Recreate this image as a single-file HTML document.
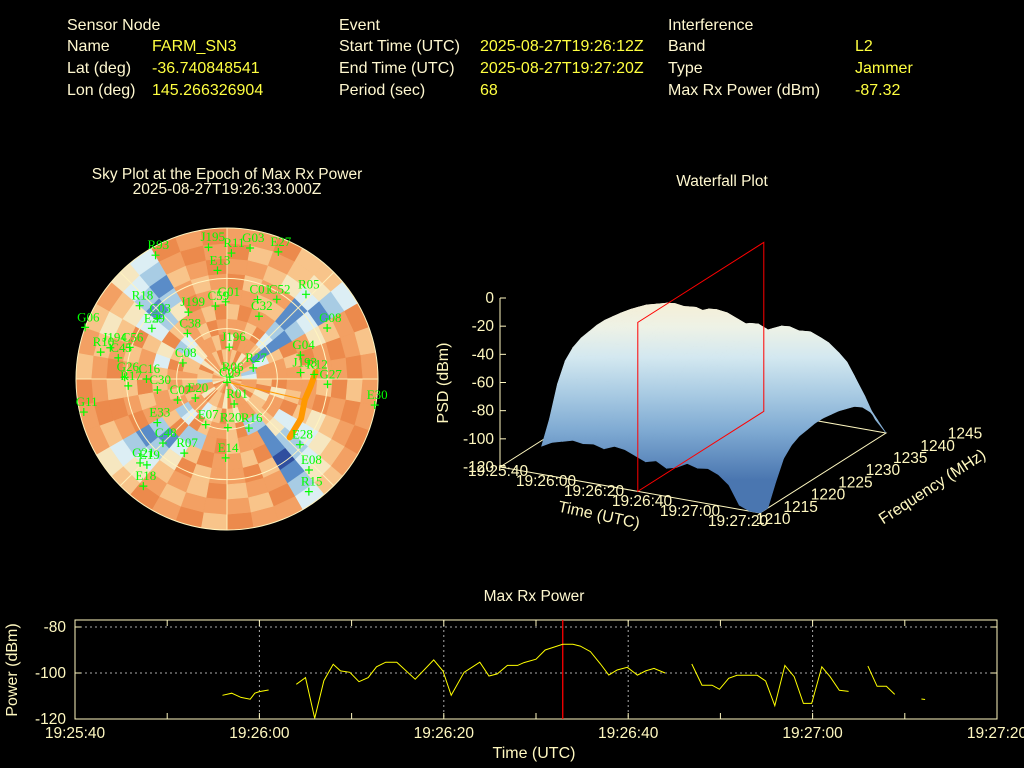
<!DOCTYPE html>
<html><head><meta charset="utf-8"><style>
html,body{margin:0;padding:0;background:#000;}
svg{display:block;font-family:"Liberation Sans",sans-serif;}
.h{fill:#fff8d0;font-size:16px;}
.v{fill:#ffff40;font-size:16px;}
.t{fill:#fff8d0;font-size:15.5px;}
</style></head><body>
<svg id="root" width="1024" height="768" viewBox="0 0 1024 768">
<rect width="1024" height="768" fill="#000"/>
<g>
<text class="h" x="67" y="30">Sensor Node</text>
<text class="h" x="67" y="51">Name</text><text class="v" x="152" y="51">FARM_SN3</text>
<text class="h" x="67" y="73">Lat (deg)</text><text class="v" x="152" y="73">-36.740848541</text>
<text class="h" x="67" y="95">Lon (deg)</text><text class="v" x="152" y="95">145.266326904</text>
<text class="h" x="339" y="30">Event</text>
<text class="h" x="339" y="51">Start Time (UTC)</text><text class="v" x="480" y="51">2025-08-27T19:26:12Z</text>
<text class="h" x="339" y="73">End Time (UTC)</text><text class="v" x="480" y="73">2025-08-27T19:27:20Z</text>
<text class="h" x="339" y="95">Period (sec)</text><text class="v" x="480" y="95">68</text>
<text class="h" x="668" y="30">Interference</text>
<text class="h" x="668" y="51">Band</text><text class="v" x="855" y="51">L2</text>
<text class="h" x="668" y="73">Type</text><text class="v" x="855" y="73">Jammer</text>
<text class="h" x="668" y="95">Max Rx Power (dBm)</text><text class="v" x="855" y="95">-87.32</text>
</g>
<text class="t" x="227" y="179" text-anchor="middle">Sky Plot at the Epoch of Max Rx Power</text>
<text class="t" x="227" y="194" text-anchor="middle">2025-08-27T19:26:33.000Z</text>
<text class="t" x="722" y="186" text-anchor="middle">Waterfall Plot</text>
<text class="t" x="534" y="601" text-anchor="middle">Max Rx Power</text>
<g id="sky"></g>
<g id="wf"></g>
<g id="pw"></g>
</svg>
<script>
const NS='http://www.w3.org/2000/svg';
function mk(p,tag,a){const e=document.createElementNS(NS,tag);for(const k in a)e.setAttribute(k,a[k]);p.appendChild(e);return e;}

/* ---------- SKY PLOT DATA ---------- */
const skyRings=[
"564756654756673567476556745665476557",
"657466523665746657465574662557466575",
"476651366574556645754366575655346657",
"665731566746652275665732656675236576",
"576621756657341665762275665534756657",
"665512675665321756675312657665324765",
"756613466574320576657421765657312656",
"665431576765431665756532675765421567",
"756542667576542756665643576654532676",
"667553756667653667576754667565643767"];
const skyPalette=["#2f4f9f","#5a8cc8","#a8cce4","#dceef4","#f6e7c0","#f8c48a","#f3a063","#ec8a4c"];
const satNames=["G03","E27","R11","J195","E13","R93","R05","C52","C01","C32","C59","G01","R18","C03","G06","E29","J199","C38","G08","J196","G04","J193","R10","R27","C08","R12","G27","E30","R06","C09","R01","E20","C07","G11","C30","E33","C48","E07","R20","R16","R07","E14","G21","E19","E18","E28","E08","R15","J194","C56","G26","R17","C16","C45"];
const satAz=[10,22,2,352,355,330,43,32,21,27,351,359,310,311,290,304,330,319,63,4,72,85,282,67,290,87,93,100,56,180,164,239,247,257,261,238,225,205,179,156,210,181,226,223,218,132,138,144,285,288,271,266,270,281];
const satEl=[10.7,8.3,14.9,10.7,25,4.8,21,34,39.3,48,46,44,22,35,0,36,44,54,23,71,44,46,13,73,62,38,30,0.6,88,88,74.5,68,58,2.4,48,41,36,60,61,58,39,43,18,20,9,31.5,17,7,18,29,29,31,42,24];
const trackAz=[85.5,95,105,118,133];
const trackEl=[37,40,42,40,39];

(function(){
 const g=document.getElementById('sky');
 const cx=227,cy=379,R=151;
 const rp=el=>R*(90-el)/90;
 const pt=(az,el)=>{const r=rp(el),a=az*Math.PI/180;return [cx+r*Math.sin(a),cy-r*Math.cos(a)];};
 const nR=skyRings.length,nS=skyRings[0].length;
 for(let i=0;i<nR;i++){for(let j=0;j<nS;j++){
  const r0=R*i/nR,r1=R*(i+1)/nR,a0=(j*360/nS-90)*Math.PI/180,a1=((j+1)*360/nS-90)*Math.PI/180;
  const p=[[r0,a0],[r1,a0],[r1,a1],[r0,a1]].map(q=>(cx+q[0]*Math.cos(q[1])).toFixed(1)+','+(cy+q[0]*Math.sin(q[1])).toFixed(1));
  const c=mk(g,'polygon',{points:p.join(' '),fill:skyPalette[+skyRings[i][j]],stroke:skyPalette[+skyRings[i][j]],'stroke-width':0.6});
  
  
 }}
 [30,60].forEach(el=>{const c=mk(g,'circle',{cx:cx,cy:cy,r:rp(el),fill:'none',stroke:'#fff4c0','stroke-width':1});
  });
 const o=mk(g,'circle',{cx:cx,cy:cy,r:R,fill:'none',stroke:'#fff4c0','stroke-width':1});
 
 [0,45,90,135].forEach(a=>{const p1=pt(a,0),p2=pt(a+180,0);
  const l=mk(g,'line',{x1:p1[0],y1:p1[1],x2:p2[0],y2:p2[1],stroke:'#fff4c0','stroke-width':1,opacity:0.9});
  });
 const tp=trackAz.map((a,i)=>pt(a,trackEl[i]));
 const ln=mk(g,'line',{x1:cx,y1:cy+3,x2:tp[2][0],y2:tp[2][1],stroke:'#ff9900','stroke-width':1});
 
 const tr=mk(g,'polyline',{points:tp.map(p=>p[0].toFixed(1)+','+p[1].toFixed(1)).join(' '),fill:'none',stroke:'#ff9900','stroke-width':6,'stroke-linecap':'round'});
 
 satNames.forEach((n,i)=>{const p=pt(satAz[i],satEl[i]);
  const s=mk(g,'path',{d:`M${p[0]-4},${p[1]}h8M${p[0]},${p[1]-4}v8`,stroke:'#00ff00','stroke-width':1.2});
  
  const t=mk(g,'text',{x:p[0]-8,y:p[1]-6,fill:'#00ff00','font-size':13,'font-family':'"Liberation Serif",serif'});
  t.textContent=n;
  
 });
})();

/* ---------- WATERFALL DATA ---------- */
const wfFreqTicks=["1210","1215","1220","1225","1230","1235","1240","1245"];
const wfTimeTicks=["19:25:40","19:26:00","19:26:20","19:26:40","19:27:00","19:27:20"];
const wfZTicks=["0","-20","-40","-60","-80","-100","-120"];
const wfFreqProfile=[-92,-76,-55,-42,-36,-33,-32,-31,-31,-32,-33,-35,-37,-41,-48,-58,-72];
const wfTimeProfile=[null,null,null,null,-8,-4,-2,0,-1,0,-2,1,0,-3,-6,-4,-8,-6,-2,-4,-3,-6,-12,-25,-40,-50];
const wfMarkerTime=0.53;

(function(){
 const g=document.getElementById('wf');
 const A=[500,467],TV=[260,46],FV=[126,-80],ZH=169;
 const P=(t,f,z)=>[A[0]+t*TV[0]+f*FV[0],A[1]+t*TV[1]+f*FV[1]-(z+120)/120*ZH];
 const defs=mk(g,'defs',{});
 const gr=mk(defs,'linearGradient',{id:'wfg',gradientUnits:'userSpaceOnUse',x1:0,y1:300,x2:0,y2:480});
 [[0,'#f6eed4'],[0.15,'#eef2e6'],[0.32,'#d3e8f0'],[0.52,'#a9cbe3'],[0.72,'#80abd3'],[1,'#4a76b0']].forEach(s=>mk(gr,'stop',{offset:s[0],'stop-color':s[1]}));
 const ax=(d,name)=>{const e=mk(g,'path',{d:d,stroke:'#fff8c0','stroke-width':1,fill:'none'});};
 const pA=P(0,0,-120),pB=P(1,0,-120),pC=P(1,1,-120),pD=P(0,1,-120);
 ax(`M${pA}L${pB}L${pC}L${pD}Z`,'waterfall-floor');
 const zt=P(0,0,0);
 ax(`M${pA}L${zt}`,'z-axis');
 wfZTicks.forEach((l,i)=>{const z=-i*20,p=P(0,0,z);ax(`M${p[0]},${p[1]}h6`,'z-tick');
  const t=mk(g,'text',{x:p[0]-6,y:p[1]+5,fill:'#fff8c0','font-size':15.5,'text-anchor':'end'});t.textContent=l;
  });
 const nF=wfFreqProfile.length,nT=wfTimeProfile.length;
 const zv=(fi,ti)=>wfTimeProfile[ti]===null?null:Math.max(-120,wfFreqProfile[fi]+wfTimeProfile[ti]);
 for(let fi=nF-2;fi>=0;fi--){
  const f0=fi/(nF-1),f1=(fi+1)/(nF-1);
  for(let ti=0;ti<nT-1;ti++){
   const a=zv(fi,ti),b=zv(fi,ti+1),c=zv(fi+1,ti+1),d=zv(fi+1,ti);
   if(a===null||b===null||c===null||d===null)continue;
   const t0=ti/(nT-1),t1=(ti+1)/(nT-1);
   const pts=[P(t0,f0,a),P(t1,f0,b),P(t1,f1,c),P(t0,f1,d)];
   const e=mk(g,'polygon',{points:pts.map(p=>p[0].toFixed(1)+','+p[1].toFixed(1)).join(' '),fill:'url(#wfg)',stroke:'url(#wfg)','stroke-width':0.6});
   
   
  }
 }
 const r1=P(wfMarkerTime,0,-120),r2=P(wfMarkerTime,0,0),r3=P(wfMarkerTime,1,0),r4=P(wfMarkerTime,1,-120);
 const rp=mk(g,'polygon',{points:[r1,r2,r3,r4].map(p=>p.join(',')).join(' '),fill:'none',stroke:'#ff0000','stroke-width':1});
 
 wfTimeTicks.forEach((l,i)=>{const t=mk(g,'text',{x:498+i*48,y:476+i*10,fill:'#fff8c0','font-size':15.5,'text-anchor':'middle'});t.textContent=l;
  });
 wfFreqTicks.forEach((l,i)=>{const t=mk(g,'text',{x:756+i*27.4,y:524-i*12.2,fill:'#fff8c0','font-size':15.5});t.textContent=l;
  });
 const lab=(x,y,r,s,n)=>{const t=mk(g,'text',{x:x,y:y,fill:'#fff8c0','font-size':16,'text-anchor':'middle',transform:`rotate(${r} ${x} ${y})`});t.textContent=s;
  };
 lab(448,383,-90,'PSD (dBm)','z-axis-title');
 lab(598,520,12,'Time (UTC)','time-axis-title');
 lab(935,491,-33,'Frequency (MHz)','freq-axis-title');
})();

/* ---------- POWER CHART DATA ---------- */
const pwTimes=[16,17,18,19,19.5,20,21,null,24,25,26,27,28,28.8,29.8,30.8,31.8,32.7,33.7,34.9,36.9,38.9,39.9,40.8,42.2,43.9,44.9,45.8,46.9,48,48.7,50,51,52.9,54,54.8,55.9,57,57.9,58.8,59.9,61,61.9,62.8,64,null,66.9,68,69.1,69.9,70.9,71.8,74,74.9,75.9,77,78,79,79.9,81,81.9,82.9,83.9,null,86,87,88,88.9,null,91.8,92.2];
const pwValues=[-109.7,-108.8,-110.6,-111.4,-108.8,-108.1,-107.4,null,-104.9,-102,-119.7,-103.3,-96.2,-99.1,-99.7,-103.8,-102,-97.3,-95.3,-95.3,-102.7,-94.3,-99.1,-109.7,-99.7,-95.3,-101.3,-100.4,-96.7,-96.7,-95.5,-94,-90,-87.5,-87.5,-88.3,-90.7,-96.1,-100.9,-98.7,-97.5,-100.9,-99.1,-98,-100,null,-96.1,-105.3,-105.3,-107.1,-102.3,-101,-101,-103.5,-114.2,-96.7,-101.6,-113.2,-113.2,-97.3,-101.6,-107.5,-108,null,-97,-105.8,-105.8,-109.3,null,-111.3,-111.5];
const pwXTicks=["19:25:40","19:26:00","19:26:20","19:26:40","19:27:00","19:27:20"];
const pwYTicks=["-80","-100","-120"];
const pwMarker=52.9;

(function(){
 const g=document.getElementById('pw');
 const X0=75,X1=997,Y80=627,Y120=719;
 const xs=t=>X0+(X1-X0)*t/100, ys=v=>Y120+(v+120)*(Y80-Y120)/40;
 const L=(a,n)=>{const e=mk(g,'line',a);return e;};
 [-80,-100].forEach(v=>L({x1:X0,x2:X1,y1:ys(v),y2:ys(v),stroke:'#aaa','stroke-dasharray':'2,3','stroke-width':1},'y-grid-line'));
 [20,40,60,80].forEach(t=>L({x1:xs(t),x2:xs(t),y1:620,y2:719,stroke:'#aaa','stroke-dasharray':'2,3','stroke-width':1},'x-grid-line'));
 for(let t=10;t<100;t+=10){L({x1:xs(t),x2:xs(t),y1:620,y2:626,stroke:'#fff8c0'},'x-tick');L({x1:xs(t),x2:xs(t),y1:713,y2:719,stroke:'#fff8c0'},'x-tick');}
 [-80,-100].forEach(v=>{L({x1:X0,x2:X0+6,y1:ys(v),y2:ys(v),stroke:'#fff8c0'},'y-tick');L({x1:X1-6,x2:X1,y1:ys(v),y2:ys(v),stroke:'#fff8c0'},'y-tick');});
 const fr=mk(g,'rect',{x:X0,y:620,width:X1-X0,height:99,fill:'none',stroke:'#fff8c0','stroke-width':1});
 
 L({x1:xs(pwMarker),x2:xs(pwMarker),y1:620,y2:719,stroke:'#ff0000','stroke-width':1.3},'max-power-marker');
 let seg=[];
 const flush=()=>{if(seg.length){const e=mk(g,'polyline',{points:seg.join(' '),fill:'none',stroke:'#ffff00','stroke-width':1});
  }seg=[];};
 pwTimes.forEach((t,i)=>{if(t===null||pwValues[i]===null){flush();return;}seg.push(xs(t).toFixed(1)+','+ys(pwValues[i]).toFixed(1));});
 flush();
 pwXTicks.forEach((l,i)=>{const t=mk(g,'text',{x:xs(i*20),y:738,fill:'#fff8c0','font-size':15.5,'text-anchor':'middle'});t.textContent=l;
  });
 pwYTicks.forEach((l,i)=>{const t=mk(g,'text',{x:66,y:ys(-80-20*i)+5,fill:'#fff8c0','font-size':15.5,'text-anchor':'end'});t.textContent=l;
  });
 const xt=mk(g,'text',{x:534,y:758,fill:'#fff8c0','font-size':16,'text-anchor':'middle'});xt.textContent='Time (UTC)';
 
 const yt=mk(g,'text',{x:17,y:670,fill:'#fff8c0','font-size':16,'text-anchor':'middle',transform:'rotate(-90 17 670)'});yt.textContent='Power (dBm)';
 
})();
</script>
</body></html>
